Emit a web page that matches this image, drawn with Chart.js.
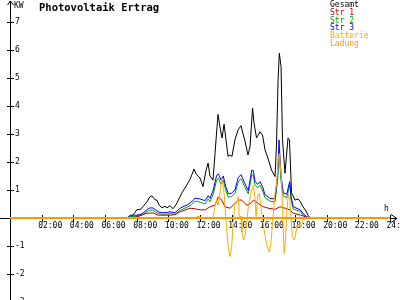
<!DOCTYPE html>
<html><head><meta charset="utf-8">
<script src="https://cdn.jsdelivr.net/npm/chart.js@4"></script>
<style>html,body{margin:0;padding:0;background:#fff;overflow:hidden}canvas{display:block}</style>
</head><body>
<canvas id="c" width="400" height="300"></canvas>
<script>
// ---- data (hours of day, kW) ----
const chartTitle = 'Photovoltaik Ertrag';
const yUnit = 'KW';
const xUnit = 'h';
const xTickHours = [2, 4, 6, 8, 10, 12, 14, 16, 18, 20, 22, 24];
const yTickValues = [-3, -2, -1, 1, 2, 3, 4, 5, 6, 7];
const seriesNames = ['Gesamt', 'Str 1', 'Str 2', 'Str 3', 'Batterie', 'Ladung'];
const seriesColors = ['#000000', '#b80000', '#00a800', '#0000ff', '#ffaa00', '#ff9900'];

const gesamtHours = [0, 7.39, 7.64, 7.83, 8.02, 8.21, 8.40, 8.65, 8.84, 8.97, 9.16, 9.28, 9.41, 9.60, 9.79, 9.92, 10.11, 10.29, 10.48, 10.67, 10.86, 11.05, 11.24, 11.37, 11.49, 11.62, 11.75, 11.87, 12.00, 12.19, 12.38, 12.51, 12.63, 12.82, 12.95, 13.04, 13.14, 13.26, 13.39, 13.52, 13.64, 13.77, 13.89, 14.02, 14.21, 14.40, 14.59, 14.72, 14.84, 15.03, 15.16, 15.32, 15.41, 15.57, 15.66, 15.79, 15.95, 16.11, 16.29, 16.52, 16.74, 16.83, 16.93, 17.01, 17.12, 17.21, 17.37, 17.46, 17.56, 17.65, 17.78, 18.00, 18.19, 18.32, 18.51, 18.69, 18.82, 18.95, 24];
const gesamtKW    = [0, 0, 0.05, 0.15, 0.3, 0.3, 0.4, 0.58, 0.76, 0.79, 0.65, 0.64, 0.47, 0.36, 0.42, 0.36, 0.44, 0.33, 0.47, 0.68, 0.9, 1.07, 1.25, 1.38, 1.55, 1.75, 1.58, 1.5, 1.43, 1.12, 1.7, 1.96, 1.5, 1.35, 2.3, 3.0, 3.7, 3.25, 2.86, 3.35, 2.8, 2.2, 2.25, 2.2, 2.8, 3.14, 3.3, 3.0, 2.75, 2.25, 2.55, 3.93, 3.4, 2.86, 2.95, 3.08, 2.96, 2.43, 2.14, 1.71, 1.48, 2.6, 4.9, 5.89, 5.4, 2.8, 1.6, 2.2, 2.86, 2.8, 0.9, 0.64, 0.68, 0.6, 0.4, 0.25, 0.1, 0, 0];

const str1Hours = [0, 7.58, 7.96, 8.40, 8.65, 9.03, 9.35, 10.11, 10.42, 10.74, 11.37, 11.68, 12.00, 12.32, 12.63, 12.95, 13.16, 13.37, 13.58, 13.89, 14.10, 14.42, 14.63, 14.95, 15.16, 15.37, 15.68, 16.00, 16.31, 16.74, 17.05, 17.37, 17.69, 17.89, 18.32, 18.63, 18.88, 24];
const str1KW    = [0, 0, 0.03, 0.12, 0.17, 0.18, 0.1, 0.1, 0.12, 0.22, 0.35, 0.33, 0.29, 0.29, 0.4, 0.46, 0.76, 0.64, 0.4, 0.35, 0.46, 0.64, 0.64, 0.46, 0.5, 0.64, 0.52, 0.4, 0.35, 0.31, 0.4, 0.35, 0.29, 0.17, 0.11, 0.05, 0, 0];

const str2Hours = [0, 7.45, 7.64, 7.96, 8.21, 8.46, 8.72, 8.84, 9.03, 9.22, 9.35, 9.66, 9.92, 10.11, 10.42, 10.74, 10.99, 11.18, 11.48, 11.68, 12.00, 12.32, 12.52, 12.63, 12.84, 13.05, 13.16, 13.33, 13.47, 13.62, 13.79, 14.00, 14.21, 14.42, 14.59, 14.84, 15.05, 15.27, 15.37, 15.47, 15.64, 15.79, 15.94, 16.11, 16.42, 16.74, 16.91, 16.99, 17.12, 17.26, 17.48, 17.62, 17.67, 17.75, 17.89, 18.21, 18.32, 18.52, 18.74, 18.88, 24];
const str2KW    = [0, 0, 0.05, 0.06, 0.08, 0.14, 0.25, 0.28, 0.28, 0.2, 0.16, 0.13, 0.14, 0.16, 0.13, 0.27, 0.34, 0.38, 0.48, 0.6, 0.57, 0.5, 0.68, 0.58, 0.86, 1.36, 1.42, 1.22, 1.35, 1.0, 0.74, 0.77, 0.88, 1.3, 1.4, 1.1, 0.86, 1.55, 1.52, 1.18, 1.08, 1.17, 1.0, 0.72, 0.6, 0.58, 1.4, 2.4, 1.3, 0.78, 0.72, 1.08, 1.2, 0.66, 0.32, 0.26, 0.24, 0.1, 0.03, 0, 0];

const str3Hours = [0, 7.39, 7.58, 7.96, 8.21, 8.46, 8.72, 8.84, 9.03, 9.22, 9.35, 9.66, 9.92, 10.11, 10.42, 10.74, 10.99, 11.18, 11.48, 11.68, 12.00, 12.32, 12.52, 12.63, 12.84, 13.05, 13.16, 13.33, 13.47, 13.62, 13.79, 14.00, 14.21, 14.42, 14.59, 14.84, 15.05, 15.27, 15.37, 15.47, 15.64, 15.79, 15.94, 16.11, 16.42, 16.74, 16.91, 16.99, 17.12, 17.26, 17.48, 17.62, 17.67, 17.75, 17.89, 18.21, 18.32, 18.52, 18.74, 18.88, 24];
const str3KW    = [0, 0, 0.1, 0.1, 0.12, 0.2, 0.33, 0.36, 0.36, 0.28, 0.22, 0.19, 0.2, 0.22, 0.19, 0.35, 0.42, 0.46, 0.58, 0.71, 0.68, 0.62, 0.8, 0.7, 1.0, 1.52, 1.57, 1.36, 1.5, 1.13, 0.86, 0.89, 1.0, 1.45, 1.55, 1.22, 0.98, 1.71, 1.69, 1.32, 1.2, 1.3, 1.13, 0.83, 0.7, 0.68, 1.6, 2.79, 1.5, 0.9, 0.85, 1.2, 1.3, 0.77, 0.4, 0.32, 0.3, 0.15, 0.05, 0, 0];

const batterieHours = [0, 11.75, 11.8, 12.0, 12.05, 12.82, 12.95, 13.04, 13.14, 13.26, 13.39, 13.52, 13.62, 13.69, 13.79, 13.89, 14.00, 14.10, 14.21, 14.33, 14.42, 14.48, 14.59, 14.65, 14.74, 14.84, 14.95, 15.05, 15.16, 15.27, 15.37, 15.47, 15.54, 15.64, 15.75, 15.85, 15.97, 16.08, 16.21, 16.38, 16.48, 16.56, 16.65, 16.74, 16.84, 16.95, 17.01, 17.16, 17.26, 17.32, 17.41, 17.49, 17.58, 17.67, 17.75, 17.83, 17.96, 18.13, 18.25, 18.38, 18.52, 18.63, 24];
const batterieKW    = [0, 0, 0.06, 0.06, 0, 0, 0.4, 0.64, 0.45, 0.89, 1.4, 0.89, 0.05, -0.43, -1.02, -1.38, -1.02, -0.13, 0.52, 0.55, 0.76, 0.05, 0.05, -0.49, -0.79, -0.67, -0.19, 0.4, 0.76, 1.0, 1.15, 0.76, 0.05, 0.76, 0.88, 0.4, -0.1, -0.55, -0.95, -1.22, -0.9, -0.31, 0.29, 0.88, 1.24, 2.1, 2.3, 1.24, -0.43, -1.26, -0.67, 0.29, 0.88, 0.64, 0.0, -0.67, -0.79, -0.31, -0.19, -0.31, -0.07, 0, 0];

const ladungHours = [0, 24];
const ladungKW    = [0, 0];

// ---- chart ----
const seriesHours = [gesamtHours, str1Hours, str2Hours, str3Hours, batterieHours, ladungHours];
const seriesKW = [gesamtKW, str1KW, str2KW, str3KW, batterieKW, ladungKW];
const seriesWidth = [1, 1, 1, 1, 1, 2];
const seriesOrder = [5, 2, 4, 3, 1, 0];

const FONT = '"DejaVu Sans Mono", monospace';
Chart.defaults.font.family = FONT;
Chart.defaults.font.size = 8;
Chart.defaults.color = '#000';

const noPad = scale => {
  scale.paddingTop = 0; scale.paddingBottom = 0;
  scale.paddingLeft = 0; scale.paddingRight = 0;
  if (!scale.isHorizontal()) scale.width = 0; else scale.height = 0;
};

const pvPlugin = {
  id: 'pvAxes',
  beforeDatasetsDraw(chart) {
    const {ctx, scales: {x, y}} = chart;
    const x0 = Math.round(x.getPixelForValue(0)) + 0.5;
    const y0 = Math.round(y.getPixelForValue(0)) + 0.5;
    const xEnd = Math.round(x.getPixelForValue(24)) + 7;
    ctx.save();
    ctx.strokeStyle = '#000';
    ctx.lineWidth = 1;
    ctx.beginPath();
    ctx.moveTo(x0, 300); ctx.lineTo(x0, 1);
    ctx.moveTo(x0 - 3, 5); ctx.lineTo(x0, 1); ctx.lineTo(x0 + 3, 5);
    ctx.moveTo(0, y0); ctx.lineTo(xEnd, y0);
    ctx.moveTo(xEnd - 6, y0 - 4); ctx.lineTo(xEnd, y0); ctx.lineTo(xEnd - 6, y0 + 4);
    y.ticks.forEach(t => {
      const py = Math.round(y.getPixelForValue(t.value)) + 0.5;
      ctx.moveTo(x0 - 3.5, py); ctx.lineTo(x0 + 3.5, py);
    });
    x.ticks.forEach(t => {
      const px = Math.round(x.getPixelForValue(t.value)) + 0.5;
      ctx.moveTo(px, y0 - 3.5); ctx.lineTo(px, y0 + 3.5);
    });
    ctx.stroke();
    ctx.restore();
  },
  afterDraw(chart) {
    const {ctx, scales: {x, y}} = chart;
    ctx.save();
    ctx.textBaseline = 'alphabetic';
    ctx.textAlign = 'left';
    ctx.fillStyle = '#000';
    ctx.font = 'bold 10.5px ' + FONT;
    ctx.fillText(chartTitle, 39, 10.7);
    ctx.font = '8px ' + FONT;
    ctx.fillText(yUnit, x.getPixelForValue(0) + 4, 7.5);
    ctx.fillText(xUnit, x.getPixelForValue(24) - 6, y.getPixelForValue(0) - 6.5);
    chart.data.datasets.forEach((ds, i) => {
      ctx.fillStyle = ds.borderColor;
      ctx.fillText(ds.label, 330, 7.3 + i * 7.65);
    });
    ctx.restore();
  }
};

new Chart(document.getElementById('c'), {
  type: 'line',
  data: {
    datasets: seriesNames.map((name, i) => ({
      label: name,
      data: seriesHours[i].map((h, k) => ({x: h, y: seriesKW[i][k]})),
      borderColor: seriesColors[i],
      backgroundColor: seriesColors[i],
      borderWidth: seriesWidth[i],
      pointRadius: 0,
      tension: 0,
      fill: false,
      order: seriesOrder[i]
    }))
  },
  options: {
    responsive: false,
    animation: false,
    events: [],
    layout: {padding: {left: 10, right: 0, top: 0, bottom: 0}, autoPadding: false},
    plugins: {legend: {display: false}, tooltip: {enabled: false}, title: {display: false}},
    scales: {
      x: {
        type: 'linear',
        position: {y: 0},
        min: 0,
        max: 24.6316,
        afterBuildTicks: axis => { axis.ticks = xTickHours.map(v => ({value: v})); },
        afterFit: noPad,
        ticks: {
          autoSkip: false, maxRotation: 0, minRotation: 0,
          align: 'start', labelOffset: -3.5, padding: 3,
          callback: v => String(v).padStart(2, '0') + ':00'
        },
        grid: {display: false, drawTicks: false},
        border: {display: false}
      },
      y: {
        type: 'linear',
        position: 'left',
        min: -2.929,
        max: 7.786,
        afterBuildTicks: axis => { axis.ticks = yTickValues.map(v => ({value: v})); },
        afterFit: noPad,
        ticks: {mirror: true, padding: 5, autoSkip: false, callback: v => String(v)},
        grid: {display: false, drawTicks: false},
        border: {display: false}
      }
    }
  },
  plugins: [pvPlugin]
});
</script>
</body></html>
